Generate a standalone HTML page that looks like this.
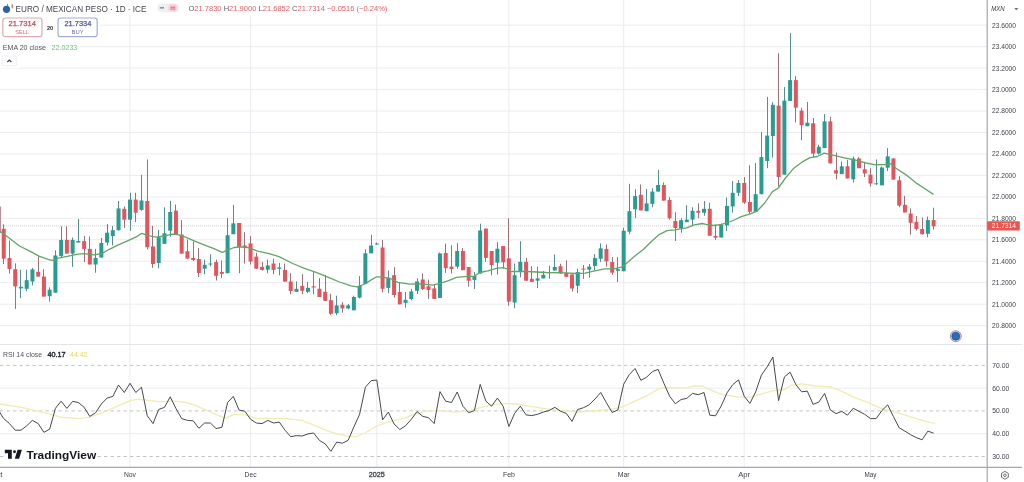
<!DOCTYPE html>
<html><head><meta charset="utf-8"><title>EUR/MXN chart</title><style>
html,body{margin:0;padding:0;background:#fff;}
body{width:1024px;height:482px;overflow:hidden;}
svg{display:block;filter:blur(0.3px);}
</style></head><body>
<svg width="1024" height="482" viewBox="0 0 1024 482" font-family="'Liberation Sans', Arial, sans-serif">
<defs><clipPath id="cp"><rect x="0" y="0" width="987.2" height="344.5"/></clipPath><clipPath id="cr"><rect x="0" y="344.5" width="987.2" height="122.89999999999998"/></clipPath></defs>
<rect width="1024" height="482" fill="#ffffff"/>
<line x1="0" x2="987.2" y1="25.2" y2="25.2" stroke="#ebecef" stroke-width="1"/>
<line x1="0" x2="987.2" y1="46.7" y2="46.7" stroke="#ebecef" stroke-width="1"/>
<line x1="0" x2="987.2" y1="68.1" y2="68.1" stroke="#ebecef" stroke-width="1"/>
<line x1="0" x2="987.2" y1="89.6" y2="89.6" stroke="#ebecef" stroke-width="1"/>
<line x1="0" x2="987.2" y1="111.0" y2="111.0" stroke="#ebecef" stroke-width="1"/>
<line x1="0" x2="987.2" y1="132.5" y2="132.5" stroke="#ebecef" stroke-width="1"/>
<line x1="0" x2="987.2" y1="154.0" y2="154.0" stroke="#ebecef" stroke-width="1"/>
<line x1="0" x2="987.2" y1="175.4" y2="175.4" stroke="#ebecef" stroke-width="1"/>
<line x1="0" x2="987.2" y1="196.9" y2="196.9" stroke="#ebecef" stroke-width="1"/>
<line x1="0" x2="987.2" y1="218.3" y2="218.3" stroke="#ebecef" stroke-width="1"/>
<line x1="0" x2="987.2" y1="239.8" y2="239.8" stroke="#ebecef" stroke-width="1"/>
<line x1="0" x2="987.2" y1="261.3" y2="261.3" stroke="#ebecef" stroke-width="1"/>
<line x1="0" x2="987.2" y1="282.7" y2="282.7" stroke="#ebecef" stroke-width="1"/>
<line x1="0" x2="987.2" y1="304.2" y2="304.2" stroke="#ebecef" stroke-width="1"/>
<line x1="0" x2="987.2" y1="325.6" y2="325.6" stroke="#ebecef" stroke-width="1"/>
<line x1="0" x2="987.2" y1="388.2" y2="388.2" stroke="#ebecef" stroke-width="1"/>
<line x1="0" x2="987.2" y1="433.7" y2="433.7" stroke="#ebecef" stroke-width="1"/>
<line x1="130.0" x2="130.0" y1="0" y2="467.4" stroke="#ebecef" stroke-width="1"/>
<line x1="250.6" x2="250.6" y1="0" y2="467.4" stroke="#ebecef" stroke-width="1"/>
<line x1="376.8" x2="376.8" y1="0" y2="467.4" stroke="#ebecef" stroke-width="1"/>
<line x1="508.9" x2="508.9" y1="0" y2="467.4" stroke="#ebecef" stroke-width="1"/>
<line x1="623.7" x2="623.7" y1="0" y2="467.4" stroke="#ebecef" stroke-width="1"/>
<line x1="744.2" x2="744.2" y1="0" y2="467.4" stroke="#ebecef" stroke-width="1"/>
<line x1="870.5" x2="870.5" y1="0" y2="467.4" stroke="#ebecef" stroke-width="1"/>
<line x1="0" x2="987.2" y1="365.4" y2="365.4" stroke="#bfc2c6" stroke-width="1" stroke-dasharray="3.3 3.2"/>
<line x1="0" x2="987.2" y1="410.9" y2="410.9" stroke="#bfc2c6" stroke-width="1" stroke-dasharray="3.3 3.2"/>
<line x1="0" x2="987.2" y1="456.5" y2="456.5" stroke="#bfc2c6" stroke-width="1" stroke-dasharray="3.3 3.2"/>
<line x1="0" x2="1022" y1="344.5" y2="344.5" stroke="#e4e5ea" stroke-width="1"/>
<line x1="0" x2="987.2" y1="225.9" y2="225.9" stroke="#d6cfd3" stroke-width="1" stroke-dasharray="1.2 0.8"/>
<g clip-path="url(#cp)">
<rect x="0" y="206.5" width="1.1" height="26.5" fill="#b9949e"/>
<rect x="3.00" y="224.3" width="1" height="39.7" fill="#9c7075"/>
<rect x="1.74" y="228.8" width="4" height="29.9" fill="#e3555d"/>
<rect x="9.00" y="240.5" width="1" height="33.2" fill="#9c7075"/>
<rect x="7.48" y="258.0" width="4" height="11.0" fill="#e3555d"/>
<rect x="15.00" y="263.4" width="1" height="45.5" fill="#9c7075"/>
<rect x="13.22" y="269.2" width="4" height="17.2" fill="#e3555d"/>
<rect x="20.00" y="269.8" width="1" height="28.3" fill="#548f8b"/>
<rect x="18.96" y="286.8" width="4" height="1.6" fill="#289c91"/>
<rect x="26.00" y="269.8" width="1" height="21.5" fill="#548f8b"/>
<rect x="24.70" y="280.2" width="4" height="8.6" fill="#289c91"/>
<rect x="32.00" y="268.0" width="1" height="17.4" fill="#548f8b"/>
<rect x="30.44" y="269.4" width="4" height="12.1" fill="#289c91"/>
<rect x="38.00" y="256.1" width="1" height="20.5" fill="#9c7075"/>
<rect x="36.18" y="271.8" width="4" height="4.8" fill="#e3555d"/>
<rect x="43.00" y="269.2" width="1" height="27.4" fill="#9c7075"/>
<rect x="41.92" y="276.6" width="4" height="20.0" fill="#e3555d"/>
<rect x="49.00" y="287.4" width="1" height="14.2" fill="#548f8b"/>
<rect x="47.66" y="289.7" width="4" height="6.5" fill="#289c91"/>
<rect x="55.00" y="250.3" width="1" height="42.4" fill="#548f8b"/>
<rect x="53.40" y="255.5" width="4" height="37.2" fill="#289c91"/>
<rect x="61.00" y="226.3" width="1" height="31.8" fill="#548f8b"/>
<rect x="59.14" y="239.9" width="4" height="16.2" fill="#289c91"/>
<rect x="66.00" y="226.3" width="1" height="27.3" fill="#9c7075"/>
<rect x="64.88" y="239.9" width="4" height="13.7" fill="#e3555d"/>
<rect x="72.00" y="237.6" width="1" height="29.3" fill="#548f8b"/>
<rect x="70.62" y="239.9" width="4" height="13.7" fill="#289c91"/>
<rect x="78.00" y="219.0" width="1" height="23.5" fill="#548f8b"/>
<rect x="76.36" y="241.0" width="4" height="1.5" fill="#289c91"/>
<rect x="84.00" y="236.0" width="1" height="26.0" fill="#9c7075"/>
<rect x="82.10" y="241.1" width="4" height="7.8" fill="#e3555d"/>
<rect x="89.00" y="236.6" width="1" height="27.9" fill="#9c7075"/>
<rect x="87.84" y="248.9" width="4" height="15.6" fill="#e3555d"/>
<rect x="95.00" y="248.9" width="1" height="23.8" fill="#548f8b"/>
<rect x="93.58" y="258.0" width="4" height="6.5" fill="#289c91"/>
<rect x="101.00" y="238.0" width="1" height="19.5" fill="#548f8b"/>
<rect x="99.32" y="243.0" width="4" height="14.5" fill="#289c91"/>
<rect x="107.00" y="224.0" width="1" height="21.4" fill="#548f8b"/>
<rect x="105.06" y="232.7" width="4" height="9.8" fill="#289c91"/>
<rect x="112.00" y="226.0" width="1" height="19.4" fill="#548f8b"/>
<rect x="110.80" y="230.2" width="4" height="5.8" fill="#289c91"/>
<rect x="118.00" y="201.0" width="1" height="29.7" fill="#548f8b"/>
<rect x="116.54" y="208.4" width="4" height="21.8" fill="#289c91"/>
<rect x="124.00" y="206.4" width="1" height="21.5" fill="#9c7075"/>
<rect x="122.28" y="208.8" width="4" height="10.9" fill="#e3555d"/>
<rect x="130.00" y="192.7" width="1" height="38.1" fill="#548f8b"/>
<rect x="128.02" y="199.6" width="4" height="20.1" fill="#289c91"/>
<rect x="135.00" y="192.7" width="1" height="29.3" fill="#9c7075"/>
<rect x="133.76" y="199.6" width="4" height="13.1" fill="#e3555d"/>
<rect x="141.00" y="174.8" width="1" height="35.9" fill="#548f8b"/>
<rect x="139.50" y="200.5" width="4" height="9.4" fill="#289c91"/>
<rect x="147.00" y="159.5" width="1" height="89.8" fill="#9c7075"/>
<rect x="145.24" y="201.0" width="4" height="46.3" fill="#e3555d"/>
<rect x="152.00" y="225.9" width="1" height="42.0" fill="#9c7075"/>
<rect x="150.98" y="246.4" width="4" height="17.6" fill="#e3555d"/>
<rect x="158.00" y="229.8" width="1" height="38.6" fill="#548f8b"/>
<rect x="156.72" y="237.2" width="4" height="25.8" fill="#289c91"/>
<rect x="164.00" y="207.4" width="1" height="36.4" fill="#548f8b"/>
<rect x="162.46" y="233.3" width="4" height="10.5" fill="#289c91"/>
<rect x="170.00" y="201.0" width="1" height="35.6" fill="#548f8b"/>
<rect x="168.20" y="211.9" width="4" height="18.8" fill="#289c91"/>
<rect x="175.00" y="204.5" width="1" height="29.5" fill="#9c7075"/>
<rect x="173.94" y="210.7" width="4" height="23.3" fill="#e3555d"/>
<rect x="181.00" y="220.0" width="1" height="33.6" fill="#9c7075"/>
<rect x="179.68" y="234.6" width="4" height="19.0" fill="#e3555d"/>
<rect x="187.00" y="239.5" width="1" height="19.2" fill="#9c7075"/>
<rect x="185.42" y="251.2" width="4" height="7.4" fill="#e3555d"/>
<rect x="193.00" y="241.5" width="1" height="19.5" fill="#9c7075"/>
<rect x="191.16" y="258.0" width="4" height="2.0" fill="#e3555d"/>
<rect x="198.00" y="248.0" width="1" height="29.0" fill="#9c7075"/>
<rect x="196.90" y="259.0" width="4" height="14.0" fill="#e3555d"/>
<rect x="204.00" y="259.6" width="1" height="14.6" fill="#548f8b"/>
<rect x="202.64" y="264.8" width="4" height="3.9" fill="#289c91"/>
<rect x="210.00" y="254.3" width="1" height="12.1" fill="#548f8b"/>
<rect x="208.38" y="263.5" width="4" height="1.0" fill="#289c91"/>
<rect x="216.00" y="259.6" width="1" height="20.9" fill="#9c7075"/>
<rect x="214.12" y="262.1" width="4" height="13.7" fill="#e3555d"/>
<rect x="221.00" y="260.5" width="1" height="17.6" fill="#9c7075"/>
<rect x="219.86" y="271.9" width="4" height="1.9" fill="#e3555d"/>
<rect x="227.00" y="218.0" width="1" height="55.2" fill="#548f8b"/>
<rect x="225.60" y="235.2" width="4" height="38.0" fill="#289c91"/>
<rect x="233.00" y="204.9" width="1" height="29.3" fill="#548f8b"/>
<rect x="231.34" y="223.4" width="4" height="10.8" fill="#289c91"/>
<rect x="239.00" y="223.0" width="1" height="50.2" fill="#9c7075"/>
<rect x="237.08" y="223.0" width="4" height="23.9" fill="#e3555d"/>
<rect x="244.00" y="232.2" width="1" height="31.3" fill="#9c7075"/>
<rect x="242.82" y="245.5" width="4" height="2.4" fill="#e3555d"/>
<rect x="250.00" y="236.1" width="1" height="28.4" fill="#9c7075"/>
<rect x="248.56" y="243.4" width="4" height="18.1" fill="#e3555d"/>
<rect x="256.00" y="252.7" width="1" height="16.1" fill="#9c7075"/>
<rect x="254.30" y="256.6" width="4" height="12.1" fill="#e3555d"/>
<rect x="262.00" y="262.1" width="1" height="8.6" fill="#9c7075"/>
<rect x="260.04" y="266.8" width="4" height="3.1" fill="#e3555d"/>
<rect x="267.00" y="259.6" width="1" height="13.6" fill="#548f8b"/>
<rect x="265.78" y="265.4" width="4" height="4.3" fill="#289c91"/>
<rect x="273.00" y="258.6" width="1" height="15.6" fill="#9c7075"/>
<rect x="271.52" y="263.5" width="4" height="6.4" fill="#e3555d"/>
<rect x="279.00" y="262.9" width="1" height="12.3" fill="#548f8b"/>
<rect x="277.26" y="267.4" width="4" height="1.4" fill="#289c91"/>
<rect x="284.00" y="263.5" width="1" height="18.1" fill="#9c7075"/>
<rect x="283.00" y="269.9" width="4" height="11.7" fill="#e3555d"/>
<rect x="290.00" y="273.2" width="1" height="21.1" fill="#9c7075"/>
<rect x="288.74" y="281.5" width="4" height="9.5" fill="#e3555d"/>
<rect x="296.00" y="281.4" width="1" height="10.4" fill="#548f8b"/>
<rect x="294.48" y="288.8" width="4" height="3.0" fill="#289c91"/>
<rect x="302.00" y="274.2" width="1" height="20.1" fill="#9c7075"/>
<rect x="300.22" y="285.9" width="4" height="4.9" fill="#e3555d"/>
<rect x="307.00" y="282.0" width="1" height="11.1" fill="#548f8b"/>
<rect x="305.96" y="287.9" width="4" height="3.9" fill="#289c91"/>
<rect x="313.00" y="271.6" width="1" height="22.7" fill="#9c7075"/>
<rect x="311.70" y="286.3" width="4" height="1.2" fill="#e3555d"/>
<rect x="319.00" y="278.1" width="1" height="18.9" fill="#9c7075"/>
<rect x="317.44" y="288.8" width="4" height="8.2" fill="#e3555d"/>
<rect x="325.00" y="274.8" width="1" height="26.1" fill="#9c7075"/>
<rect x="323.18" y="291.8" width="4" height="9.1" fill="#e3555d"/>
<rect x="330.00" y="293.7" width="1" height="21.5" fill="#9c7075"/>
<rect x="328.92" y="300.2" width="4" height="13.6" fill="#e3555d"/>
<rect x="336.00" y="295.7" width="1" height="19.5" fill="#548f8b"/>
<rect x="334.66" y="305.4" width="4" height="7.8" fill="#289c91"/>
<rect x="342.00" y="302.1" width="1" height="10.6" fill="#9c7075"/>
<rect x="340.40" y="304.8" width="4" height="3.6" fill="#e3555d"/>
<rect x="348.00" y="304.0" width="1" height="5.3" fill="#548f8b"/>
<rect x="346.14" y="305.4" width="4" height="3.0" fill="#289c91"/>
<rect x="353.00" y="295.7" width="1" height="14.6" fill="#548f8b"/>
<rect x="351.88" y="297.0" width="4" height="13.3" fill="#289c91"/>
<rect x="359.00" y="276.1" width="1" height="22.5" fill="#548f8b"/>
<rect x="357.62" y="285.9" width="4" height="11.7" fill="#289c91"/>
<rect x="365.00" y="249.4" width="1" height="34.5" fill="#548f8b"/>
<rect x="363.36" y="253.3" width="4" height="30.6" fill="#289c91"/>
<rect x="371.00" y="234.8" width="1" height="18.5" fill="#548f8b"/>
<rect x="369.10" y="245.5" width="4" height="7.8" fill="#289c91"/>
<rect x="376.00" y="242.5" width="1" height="2.3" fill="#548f8b"/>
<rect x="374.84" y="243.5" width="4" height="1.0" fill="#289c91"/>
<rect x="382.00" y="240.0" width="1" height="52.3" fill="#9c7075"/>
<rect x="380.58" y="247.5" width="4" height="41.3" fill="#e3555d"/>
<rect x="388.00" y="270.5" width="1" height="22.6" fill="#548f8b"/>
<rect x="386.32" y="278.1" width="4" height="9.8" fill="#289c91"/>
<rect x="394.00" y="267.2" width="1" height="30.3" fill="#9c7075"/>
<rect x="392.06" y="275.2" width="4" height="19.8" fill="#e3555d"/>
<rect x="399.00" y="282.8" width="1" height="21.5" fill="#9c7075"/>
<rect x="397.80" y="292.0" width="4" height="12.3" fill="#e3555d"/>
<rect x="405.00" y="292.0" width="1" height="15.6" fill="#548f8b"/>
<rect x="403.54" y="299.8" width="4" height="3.1" fill="#289c91"/>
<rect x="411.00" y="289.1" width="1" height="11.1" fill="#548f8b"/>
<rect x="409.28" y="291.5" width="4" height="7.6" fill="#289c91"/>
<rect x="417.00" y="278.4" width="1" height="15.6" fill="#548f8b"/>
<rect x="415.02" y="281.5" width="4" height="9.3" fill="#289c91"/>
<rect x="422.00" y="273.6" width="1" height="16.4" fill="#9c7075"/>
<rect x="420.76" y="279.5" width="4" height="9.6" fill="#e3555d"/>
<rect x="428.00" y="279.5" width="1" height="19.4" fill="#9c7075"/>
<rect x="426.50" y="286.2" width="4" height="3.8" fill="#e3555d"/>
<rect x="434.00" y="284.2" width="1" height="14.7" fill="#9c7075"/>
<rect x="432.24" y="288.4" width="4" height="10.5" fill="#e3555d"/>
<rect x="439.00" y="252.6" width="1" height="45.3" fill="#548f8b"/>
<rect x="437.98" y="253.4" width="4" height="44.5" fill="#289c91"/>
<rect x="445.00" y="243.6" width="1" height="29.3" fill="#9c7075"/>
<rect x="443.72" y="253.0" width="4" height="15.2" fill="#e3555d"/>
<rect x="451.00" y="245.2" width="1" height="28.3" fill="#9c7075"/>
<rect x="449.46" y="266.6" width="4" height="2.4" fill="#e3555d"/>
<rect x="457.00" y="243.2" width="1" height="25.4" fill="#548f8b"/>
<rect x="455.20" y="251.0" width="4" height="15.6" fill="#289c91"/>
<rect x="462.00" y="248.1" width="1" height="22.1" fill="#9c7075"/>
<rect x="460.94" y="251.0" width="4" height="19.2" fill="#e3555d"/>
<rect x="468.00" y="267.0" width="1" height="19.6" fill="#9c7075"/>
<rect x="466.68" y="267.0" width="4" height="13.7" fill="#e3555d"/>
<rect x="474.00" y="272.1" width="1" height="17.0" fill="#548f8b"/>
<rect x="472.42" y="276.0" width="4" height="3.9" fill="#289c91"/>
<rect x="480.00" y="223.7" width="1" height="49.8" fill="#548f8b"/>
<rect x="478.16" y="230.5" width="4" height="43.0" fill="#289c91"/>
<rect x="485.00" y="228.6" width="1" height="33.2" fill="#9c7075"/>
<rect x="483.90" y="228.6" width="4" height="29.3" fill="#e3555d"/>
<rect x="491.00" y="251.0" width="1" height="24.4" fill="#9c7075"/>
<rect x="489.64" y="251.0" width="4" height="14.1" fill="#e3555d"/>
<rect x="497.00" y="242.2" width="1" height="32.3" fill="#548f8b"/>
<rect x="495.38" y="248.7" width="4" height="14.0" fill="#289c91"/>
<rect x="503.00" y="246.1" width="1" height="22.5" fill="#9c7075"/>
<rect x="501.12" y="246.1" width="4" height="16.2" fill="#e3555d"/>
<rect x="508.00" y="218.2" width="1" height="87.5" fill="#9c7075"/>
<rect x="506.86" y="258.3" width="4" height="43.3" fill="#e3555d"/>
<rect x="514.00" y="263.5" width="1" height="44.7" fill="#548f8b"/>
<rect x="512.60" y="275.2" width="4" height="27.3" fill="#289c91"/>
<rect x="520.00" y="241.2" width="1" height="36.1" fill="#548f8b"/>
<rect x="518.34" y="261.8" width="4" height="10.3" fill="#289c91"/>
<rect x="526.00" y="257.9" width="1" height="22.8" fill="#9c7075"/>
<rect x="524.08" y="261.8" width="4" height="18.9" fill="#e3555d"/>
<rect x="531.00" y="266.2" width="1" height="15.6" fill="#9c7075"/>
<rect x="529.82" y="278.8" width="4" height="3.1" fill="#e3555d"/>
<rect x="537.00" y="266.6" width="1" height="21.5" fill="#548f8b"/>
<rect x="535.56" y="278.4" width="4" height="2.3" fill="#289c91"/>
<rect x="543.00" y="270.9" width="1" height="7.5" fill="#548f8b"/>
<rect x="541.30" y="274.8" width="4" height="3.6" fill="#289c91"/>
<rect x="549.00" y="265.7" width="1" height="13.1" fill="#548f8b"/>
<rect x="547.04" y="272.1" width="4" height="1.0" fill="#289c91"/>
<rect x="554.00" y="254.5" width="1" height="16.0" fill="#548f8b"/>
<rect x="552.78" y="267.0" width="4" height="3.5" fill="#289c91"/>
<rect x="560.00" y="263.7" width="1" height="10.3" fill="#9c7075"/>
<rect x="558.52" y="266.2" width="4" height="7.2" fill="#e3555d"/>
<rect x="566.00" y="260.4" width="1" height="16.4" fill="#9c7075"/>
<rect x="564.26" y="272.9" width="4" height="3.9" fill="#e3555d"/>
<rect x="572.00" y="274.5" width="1" height="17.1" fill="#9c7075"/>
<rect x="570.00" y="274.5" width="4" height="14.0" fill="#e3555d"/>
<rect x="577.00" y="268.6" width="1" height="24.4" fill="#548f8b"/>
<rect x="575.74" y="272.1" width="4" height="13.7" fill="#289c91"/>
<rect x="583.00" y="265.0" width="1" height="13.8" fill="#9c7075"/>
<rect x="581.48" y="268.6" width="4" height="1.0" fill="#e3555d"/>
<rect x="589.00" y="264.0" width="1" height="13.6" fill="#548f8b"/>
<rect x="587.22" y="266.6" width="4" height="3.1" fill="#289c91"/>
<rect x="594.00" y="254.2" width="1" height="16.2" fill="#548f8b"/>
<rect x="592.96" y="258.1" width="4" height="7.8" fill="#289c91"/>
<rect x="600.00" y="243.4" width="1" height="18.6" fill="#548f8b"/>
<rect x="598.70" y="248.3" width="4" height="10.4" fill="#289c91"/>
<rect x="606.00" y="244.4" width="1" height="22.1" fill="#9c7075"/>
<rect x="604.44" y="248.9" width="4" height="12.5" fill="#e3555d"/>
<rect x="612.00" y="257.1" width="1" height="17.6" fill="#9c7075"/>
<rect x="610.18" y="262.0" width="4" height="10.7" fill="#e3555d"/>
<rect x="617.00" y="257.1" width="1" height="25.0" fill="#548f8b"/>
<rect x="615.92" y="269.2" width="4" height="1.6" fill="#289c91"/>
<rect x="623.00" y="227.8" width="1" height="43.4" fill="#548f8b"/>
<rect x="621.66" y="230.7" width="4" height="40.5" fill="#289c91"/>
<rect x="629.00" y="183.8" width="1" height="50.4" fill="#548f8b"/>
<rect x="627.40" y="211.2" width="4" height="20.5" fill="#289c91"/>
<rect x="635.00" y="189.3" width="1" height="28.9" fill="#548f8b"/>
<rect x="633.14" y="196.1" width="4" height="13.1" fill="#289c91"/>
<rect x="640.00" y="184.4" width="1" height="26.0" fill="#9c7075"/>
<rect x="638.88" y="194.8" width="4" height="15.6" fill="#e3555d"/>
<rect x="646.00" y="188.9" width="1" height="22.3" fill="#548f8b"/>
<rect x="644.62" y="203.4" width="4" height="7.8" fill="#289c91"/>
<rect x="652.00" y="188.3" width="1" height="19.0" fill="#548f8b"/>
<rect x="650.36" y="191.6" width="4" height="12.3" fill="#289c91"/>
<rect x="658.00" y="169.8" width="1" height="21.8" fill="#548f8b"/>
<rect x="656.10" y="185.0" width="4" height="6.6" fill="#289c91"/>
<rect x="663.00" y="182.5" width="1" height="18.1" fill="#9c7075"/>
<rect x="661.84" y="185.0" width="4" height="15.6" fill="#e3555d"/>
<rect x="669.00" y="197.1" width="1" height="22.5" fill="#9c7075"/>
<rect x="667.58" y="200.0" width="4" height="18.2" fill="#e3555d"/>
<rect x="675.00" y="212.3" width="1" height="28.7" fill="#9c7075"/>
<rect x="673.32" y="220.9" width="4" height="7.1" fill="#e3555d"/>
<rect x="681.00" y="218.2" width="1" height="14.5" fill="#548f8b"/>
<rect x="679.06" y="220.2" width="4" height="8.2" fill="#289c91"/>
<rect x="686.00" y="205.3" width="1" height="16.8" fill="#548f8b"/>
<rect x="684.80" y="219.6" width="4" height="2.5" fill="#289c91"/>
<rect x="692.00" y="207.3" width="1" height="18.1" fill="#548f8b"/>
<rect x="690.54" y="210.8" width="4" height="8.8" fill="#289c91"/>
<rect x="698.00" y="203.4" width="1" height="14.8" fill="#9c7075"/>
<rect x="696.28" y="210.8" width="4" height="1.9" fill="#e3555d"/>
<rect x="704.00" y="201.0" width="1" height="14.7" fill="#548f8b"/>
<rect x="702.02" y="208.8" width="4" height="3.9" fill="#289c91"/>
<rect x="709.00" y="202.6" width="1" height="33.1" fill="#9c7075"/>
<rect x="707.76" y="208.8" width="4" height="26.9" fill="#e3555d"/>
<rect x="715.00" y="224.5" width="1" height="15.5" fill="#9c7075"/>
<rect x="713.50" y="235.9" width="4" height="1.8" fill="#e3555d"/>
<rect x="721.00" y="223.5" width="1" height="14.0" fill="#548f8b"/>
<rect x="719.24" y="224.8" width="4" height="12.7" fill="#289c91"/>
<rect x="726.00" y="197.5" width="1" height="33.5" fill="#548f8b"/>
<rect x="724.98" y="205.9" width="4" height="19.5" fill="#289c91"/>
<rect x="732.00" y="181.1" width="1" height="31.6" fill="#548f8b"/>
<rect x="730.72" y="192.8" width="4" height="13.7" fill="#289c91"/>
<rect x="738.00" y="180.0" width="1" height="16.1" fill="#548f8b"/>
<rect x="736.46" y="183.0" width="4" height="9.8" fill="#289c91"/>
<rect x="744.00" y="177.1" width="1" height="26.8" fill="#9c7075"/>
<rect x="742.20" y="183.0" width="4" height="19.6" fill="#e3555d"/>
<rect x="749.00" y="165.4" width="1" height="48.3" fill="#9c7075"/>
<rect x="747.94" y="202.0" width="4" height="9.8" fill="#e3555d"/>
<rect x="755.00" y="163.0" width="1" height="48.8" fill="#548f8b"/>
<rect x="753.68" y="194.2" width="4" height="17.6" fill="#289c91"/>
<rect x="761.00" y="132.1" width="1" height="62.1" fill="#548f8b"/>
<rect x="759.42" y="157.1" width="4" height="37.1" fill="#289c91"/>
<rect x="767.00" y="96.9" width="1" height="71.3" fill="#548f8b"/>
<rect x="765.16" y="135.6" width="4" height="25.4" fill="#289c91"/>
<rect x="772.00" y="102.2" width="1" height="55.3" fill="#548f8b"/>
<rect x="770.90" y="104.8" width="4" height="31.2" fill="#289c91"/>
<rect x="778.00" y="53.3" width="1" height="133.1" fill="#9c7075"/>
<rect x="776.64" y="105.6" width="4" height="71.4" fill="#e3555d"/>
<rect x="784.00" y="87.1" width="1" height="87.6" fill="#548f8b"/>
<rect x="782.38" y="100.6" width="4" height="74.1" fill="#289c91"/>
<rect x="790.00" y="33.2" width="1" height="67.8" fill="#548f8b"/>
<rect x="788.12" y="80.1" width="4" height="20.9" fill="#289c91"/>
<rect x="795.00" y="76.2" width="1" height="46.1" fill="#9c7075"/>
<rect x="793.86" y="80.1" width="4" height="27.5" fill="#e3555d"/>
<rect x="801.00" y="107.8" width="1" height="32.5" fill="#9c7075"/>
<rect x="799.60" y="110.6" width="4" height="14.7" fill="#e3555d"/>
<rect x="807.00" y="101.9" width="1" height="24.3" fill="#548f8b"/>
<rect x="805.34" y="122.7" width="4" height="3.5" fill="#289c91"/>
<rect x="813.00" y="118.0" width="1" height="39.1" fill="#9c7075"/>
<rect x="811.08" y="123.3" width="4" height="30.3" fill="#e3555d"/>
<rect x="818.00" y="144.8" width="1" height="9.7" fill="#548f8b"/>
<rect x="816.82" y="146.8" width="4" height="6.8" fill="#289c91"/>
<rect x="824.00" y="114.1" width="1" height="34.0" fill="#548f8b"/>
<rect x="822.56" y="121.4" width="4" height="26.7" fill="#289c91"/>
<rect x="830.00" y="116.9" width="1" height="46.5" fill="#9c7075"/>
<rect x="828.30" y="121.4" width="4" height="42.0" fill="#e3555d"/>
<rect x="836.00" y="152.6" width="1" height="26.8" fill="#9c7075"/>
<rect x="834.04" y="170.2" width="4" height="3.3" fill="#e3555d"/>
<rect x="841.00" y="161.4" width="1" height="12.7" fill="#548f8b"/>
<rect x="839.78" y="166.3" width="4" height="7.8" fill="#289c91"/>
<rect x="847.00" y="159.8" width="1" height="18.6" fill="#9c7075"/>
<rect x="845.52" y="166.3" width="4" height="12.1" fill="#e3555d"/>
<rect x="853.00" y="156.5" width="1" height="26.1" fill="#548f8b"/>
<rect x="851.26" y="158.5" width="4" height="20.8" fill="#289c91"/>
<rect x="858.00" y="157.1" width="1" height="11.1" fill="#9c7075"/>
<rect x="857.00" y="158.5" width="4" height="9.7" fill="#e3555d"/>
<rect x="864.00" y="162.2" width="1" height="14.8" fill="#9c7075"/>
<rect x="862.74" y="169.3" width="4" height="4.1" fill="#e3555d"/>
<rect x="870.00" y="168.3" width="1" height="18.3" fill="#9c7075"/>
<rect x="868.48" y="174.6" width="4" height="9.0" fill="#e3555d"/>
<rect x="876.00" y="159.5" width="1" height="25.3" fill="#548f8b"/>
<rect x="874.22" y="183.3" width="4" height="1.0" fill="#289c91"/>
<rect x="881.00" y="166.5" width="1" height="18.8" fill="#548f8b"/>
<rect x="879.96" y="167.5" width="4" height="17.8" fill="#289c91"/>
<rect x="887.00" y="148.1" width="1" height="22.9" fill="#548f8b"/>
<rect x="885.70" y="156.4" width="4" height="11.3" fill="#289c91"/>
<rect x="893.00" y="158.0" width="1" height="21.6" fill="#9c7075"/>
<rect x="891.44" y="158.5" width="4" height="21.1" fill="#e3555d"/>
<rect x="899.00" y="176.1" width="1" height="31.1" fill="#9c7075"/>
<rect x="897.18" y="180.3" width="4" height="25.3" fill="#e3555d"/>
<rect x="904.00" y="195.8" width="1" height="16.6" fill="#9c7075"/>
<rect x="902.92" y="204.8" width="4" height="7.7" fill="#e3555d"/>
<rect x="910.00" y="208.3" width="1" height="26.3" fill="#9c7075"/>
<rect x="908.66" y="213.5" width="4" height="9.3" fill="#e3555d"/>
<rect x="916.00" y="216.0" width="1" height="14.5" fill="#9c7075"/>
<rect x="914.40" y="221.8" width="4" height="7.2" fill="#e3555d"/>
<rect x="922.00" y="217.6" width="1" height="17.0" fill="#9c7075"/>
<rect x="920.14" y="229.0" width="4" height="5.2" fill="#e3555d"/>
<rect x="927.00" y="216.6" width="1" height="20.7" fill="#548f8b"/>
<rect x="925.88" y="220.1" width="4" height="13.7" fill="#289c91"/>
<rect x="933.00" y="207.7" width="1" height="21.9" fill="#9c7075"/>
<rect x="931.62" y="220.1" width="4" height="6.2" fill="#e3555d"/>
</g>
<polyline points="0.0,231.4 7.8,237.0 19.5,246.0 29.3,250.9 39.0,256.1 48.8,259.7 52.7,260.3 58.6,258.1 68.4,256.1 78.1,254.2 84.0,253.6 93.8,254.8 101.6,253.6 109.4,249.3 117.2,245.4 127.0,241.1 136.7,236.6 141.8,233.3 148.4,235.6 156.2,237.2 166.0,235.6 171.9,234.1 177.7,234.6 185.5,237.2 195.3,241.3 206.7,245.9 214.5,248.8 222.3,252.3 228.2,249.8 234.1,247.5 241.9,246.9 249.7,247.9 257.5,251.2 269.2,253.7 279.0,256.6 292.7,263.5 304.4,268.4 316.1,272.3 327.8,277.1 339.5,282.0 351.2,285.9 357.1,286.9 364.9,284.0 370.8,280.1 376.6,276.8 382.5,277.1 390.3,278.5 397.8,282.3 409.5,284.2 421.2,283.8 433.0,285.2 440.8,283.2 448.6,280.7 456.4,277.4 468.1,276.4 474.0,276.4 479.8,272.5 487.7,270.9 497.4,268.2 503.3,267.6 507.2,269.0 511.1,271.5 526.7,271.5 546.2,272.5 565.8,272.9 575.5,273.5 585.0,273.1 594.8,270.8 604.5,268.8 614.3,268.8 622.1,266.9 628.0,262.0 635.8,255.2 643.6,249.3 651.4,241.5 659.2,234.6 667.0,230.7 674.8,229.8 686.6,227.8 694.4,224.9 702.2,223.5 706.1,224.3 713.9,225.5 721.7,224.3 729.5,222.0 735.4,219.5 741.2,216.6 751.0,213.7 756.9,211.2 764.7,203.0 772.5,191.6 778.3,188.0 785.5,178.0 793.8,168.2 801.6,162.4 809.4,157.9 817.2,156.5 824.2,153.2 832.8,155.2 844.5,157.9 856.2,160.4 866.0,163.0 875.5,164.8 885.0,164.5 890.8,163.7 896.0,168.2 906.4,175.1 916.8,183.4 923.0,187.5 933.4,194.4" fill="none" stroke="#64a468" stroke-width="1.3" stroke-linejoin="round" clip-path="url(#cp)"/>
<polyline points="0.0,404.0 21.8,407.3 43.6,412.7 61.0,417.1 78.4,418.6 89.3,417.1 102.4,412.7 117.6,406.2 130.7,400.3 139.4,399.2 148.1,400.3 161.2,401.8 174.3,400.8 185.2,402.5 195.0,405.1 208.0,411.2 216.8,414.9 225.5,418.2 234.2,414.3 245.1,414.9 256.0,418.2 271.2,418.6 286.5,418.6 301.8,420.4 312.6,424.7 325.7,430.2 336.6,433.9 347.5,436.0 356.2,436.7 365.0,433.0 375.8,426.5 386.7,422.5 395.0,420.4 407.4,417.1 416.1,413.4 427.0,411.2 440.1,410.6 455.4,412.1 468.4,411.2 481.5,407.3 492.4,404.7 505.5,403.4 516.4,404.0 529.4,406.2 542.5,408.4 555.6,409.9 568.6,411.2 579.5,412.1 590.0,411.0 598.1,410.4 611.1,409.3 622.0,407.1 632.9,402.1 646.0,396.2 659.1,388.6 667.8,387.5 685.2,388.1 693.9,386.0 702.6,386.0 711.4,390.3 722.3,394.7 737.5,396.9 750.6,397.3 759.3,394.7 772.4,390.8 785.0,389.5 790.9,385.3 801.8,383.8 814.9,386.0 830.1,386.8 841.0,390.8 854.1,397.3 867.1,402.1 880.2,408.2 895.5,412.1 910.7,416.9 923.8,420.8 934.7,423.4" fill="none" stroke="#f1ebb4" stroke-width="1.3" stroke-linejoin="round" clip-path="url(#cr)"/>
<polyline points="-2.0,409.5 3.7,418.6 9.5,423.6 15.2,430.2 21.0,430.2 26.7,425.8 32.4,420.4 38.2,423.6 43.9,432.3 49.7,429.1 55.4,408.4 61.1,401.2 66.9,408.4 72.6,401.4 78.4,402.5 84.1,407.3 89.8,416.4 95.6,412.7 101.3,404.0 107.1,398.1 112.8,396.4 118.5,385.1 124.3,392.5 130.0,383.3 135.8,392.5 141.5,387.2 147.2,415.6 153.0,423.6 158.7,409.5 164.5,407.3 170.2,396.8 175.9,408.4 181.7,418.6 187.4,420.4 193.2,420.8 198.9,428.3 204.6,423.0 210.4,423.0 216.1,428.6 221.9,427.3 227.6,402.5 233.3,396.4 239.1,410.1 244.8,411.2 250.6,419.3 256.3,423.0 262.0,423.6 267.8,420.4 273.5,423.0 279.3,422.1 285.0,430.2 290.7,436.7 296.5,435.6 302.2,436.0 308.0,433.9 313.7,433.0 319.4,440.4 325.2,443.9 330.9,451.3 336.7,442.1 342.4,443.2 348.1,440.4 353.9,426.9 359.6,414.3 365.4,387.2 371.1,380.7 376.8,380.0 382.6,419.9 388.3,412.1 394.1,424.0 399.8,429.5 405.5,425.8 411.3,419.3 417.0,411.6 422.8,416.4 428.5,417.7 434.2,423.6 440.0,391.6 445.7,401.2 451.5,402.5 457.2,392.0 462.9,406.2 468.7,412.7 474.4,410.6 480.2,384.4 485.9,401.2 491.6,406.2 497.4,398.1 503.1,406.2 508.9,426.5 514.6,413.4 520.3,406.2 526.1,414.9 531.8,415.6 537.6,414.3 543.3,412.1 549.0,410.6 554.8,407.3 560.5,411.2 566.3,413.4 572.0,421.4 577.7,409.5 583.5,407.7 589.2,404.8 595.0,399.0 600.7,392.5 606.4,402.7 612.2,412.5 617.9,409.9 623.7,384.2 629.4,374.4 635.1,368.5 640.9,380.3 646.6,377.2 652.4,371.6 658.1,369.4 663.8,383.1 669.6,396.2 675.3,403.8 681.1,399.5 686.8,398.4 692.5,393.4 698.3,394.7 704.0,392.5 709.8,415.2 715.5,415.8 721.2,406.0 727.0,392.9 732.7,384.7 738.5,379.9 744.2,396.2 749.9,403.4 755.7,391.8 761.4,375.1 767.2,366.8 772.9,357.0 778.6,400.6 784.4,376.9 790.1,372.2 795.9,384.7 801.6,391.8 807.3,391.2 813.1,404.3 818.8,402.1 824.6,393.4 830.3,409.9 836.0,413.6 841.8,411.4 847.5,415.2 853.3,408.2 859.0,411.4 864.7,414.3 870.5,418.6 876.2,418.6 882.0,410.4 887.7,404.9 893.4,416.5 899.2,427.8 904.9,431.1 910.7,434.8 916.4,437.6 922.1,439.8 927.9,431.1 933.6,433.2" fill="none" stroke="#45484f" stroke-width="1.0" stroke-linejoin="round" clip-path="url(#cr)"/>
<rect x="0" y="0" width="390" height="15.5" fill="#ffffff"/>
<rect x="0" y="16.5" width="100" height="22" fill="#ffffff"/>
<rect x="0" y="40.5" width="79" height="12" fill="#ffffff"/>
<rect x="0" y="54" width="21" height="14" fill="#ffffff"/>
<circle cx="6.5" cy="9.3" r="3.6" fill="#2a62a8"/>
<rect x="7.1" y="4.0" width="0.9" height="1.8" fill="#5a7a6a"/>
<ellipse cx="12.3" cy="6.3" rx="0.9" ry="2.4" fill="#c98a8a"/>
<text x="15.6" y="11.7" font-size="9.5" fill="#43464f" textLength="130.8" lengthAdjust="spacingAndGlyphs">EURO / MEXICAN PESO · 1D · ICE</text>
<rect x="157.1" y="3.4" width="21.5" height="8.8" rx="4.4" fill="#eff0f3"/>
<rect x="159.8" y="7.2" width="4.2" height="1.3" fill="#7d808a"/>
<rect x="168.3" y="3.9" width="9.3" height="7.8" rx="2.5" fill="#fbd2de"/>
<rect x="170.4" y="6.7" width="4.9" height="0.9" fill="#d9537a"/><rect x="170.4" y="8.6" width="4.9" height="0.9" fill="#d9537a"/>
<text x="188.4" y="10.9" font-size="7.3" fill="#e0636b" textLength="199" lengthAdjust="spacingAndGlyphs"><tspan fill="#5d606b">O</tspan>21.7830 <tspan fill="#5d606b">H</tspan>21.9000 <tspan fill="#5d606b">L</tspan>21.6852 <tspan fill="#5d606b">C</tspan>21.7314 −0.0516 (−0.24%)</text>
<rect x="2.8" y="18" width="39.2" height="18.7" rx="2.8" fill="#ffffff" stroke="#dfa9b0" stroke-width="1.2"/>
<rect x="58" y="18" width="39.2" height="18.7" rx="2.8" fill="#ffffff" stroke="#a3add0" stroke-width="1.2"/>
<text x="22.25" y="25.9" font-size="7.3" fill="#c24d5b" text-anchor="middle" textLength="27.3" lengthAdjust="spacingAndGlyphs" stroke="#c24d5b" stroke-width="0.25">21.7314</text>
<text x="22.1" y="34.0" font-size="5.9" fill="#d46f7a" text-anchor="middle" textLength="13.6" lengthAdjust="spacingAndGlyphs">SELL</text>
<text x="77.9" y="25.9" font-size="7.3" fill="#4b5c95" text-anchor="middle" textLength="27.0" lengthAdjust="spacingAndGlyphs" stroke="#4b5c95" stroke-width="0.25">21.7334</text>
<text x="77.6" y="34.0" font-size="5.9" fill="#6574a6" text-anchor="middle" textLength="12.0" lengthAdjust="spacingAndGlyphs">BUY</text>
<text x="46.9" y="29.8" font-size="5.6" fill="#26292f" font-weight="bold" textLength="6.2" lengthAdjust="spacingAndGlyphs">20</text>
<text x="2.8" y="49.6" font-size="7.4" fill="#50535d" textLength="43.2" lengthAdjust="spacingAndGlyphs">EMA 20 close</text>
<text x="51.6" y="49.6" font-size="7.4" fill="#74be78" textLength="25.7" lengthAdjust="spacingAndGlyphs">22.0233</text>
<rect x="2.1" y="56" width="14.6" height="9.9" rx="2" fill="#ffffff" stroke="#eceef2" stroke-width="1"/>
<polyline points="7.4,62 9.4,60 11.4,62" fill="none" stroke="#3c3f48" stroke-width="1.1"/>
<text x="2.9" y="357.3" font-size="7.4" fill="#50535d" textLength="39.3" lengthAdjust="spacingAndGlyphs">RSI 14 close</text>
<text x="47.5" y="357.3" font-size="7.4" fill="#1e222d" textLength="18.1" lengthAdjust="spacingAndGlyphs" stroke="#1e222d" stroke-width="0.4">40.17</text>
<text x="70.1" y="357.3" font-size="7.4" fill="#e6d86c" textLength="17.2" lengthAdjust="spacingAndGlyphs">44.42</text>
<line x1="987.2" x2="987.2" y1="0" y2="482" stroke="#a3a6af" stroke-width="1.2"/>
<line x1="0" x2="1022" y1="467.4" y2="467.4" stroke="#a3a6af" stroke-width="1.2"/>
<text x="992" y="27.6" font-size="7.2" fill="#3f424b" textLength="24" lengthAdjust="spacingAndGlyphs">23.6000</text>
<text x="992" y="49.1" font-size="7.2" fill="#3f424b" textLength="24" lengthAdjust="spacingAndGlyphs">23.4000</text>
<text x="992" y="70.5" font-size="7.2" fill="#3f424b" textLength="24" lengthAdjust="spacingAndGlyphs">23.2000</text>
<text x="992" y="92.0" font-size="7.2" fill="#3f424b" textLength="24" lengthAdjust="spacingAndGlyphs">23.0000</text>
<text x="992" y="113.4" font-size="7.2" fill="#3f424b" textLength="24" lengthAdjust="spacingAndGlyphs">22.8000</text>
<text x="992" y="134.9" font-size="7.2" fill="#3f424b" textLength="24" lengthAdjust="spacingAndGlyphs">22.6000</text>
<text x="992" y="156.4" font-size="7.2" fill="#3f424b" textLength="24" lengthAdjust="spacingAndGlyphs">22.4000</text>
<text x="992" y="177.8" font-size="7.2" fill="#3f424b" textLength="24" lengthAdjust="spacingAndGlyphs">22.2000</text>
<text x="992" y="199.3" font-size="7.2" fill="#3f424b" textLength="24" lengthAdjust="spacingAndGlyphs">22.0000</text>
<text x="992" y="220.7" font-size="7.2" fill="#3f424b" textLength="24" lengthAdjust="spacingAndGlyphs">21.8000</text>
<text x="992" y="242.2" font-size="7.2" fill="#3f424b" textLength="24" lengthAdjust="spacingAndGlyphs">21.6000</text>
<text x="992" y="263.7" font-size="7.2" fill="#3f424b" textLength="24" lengthAdjust="spacingAndGlyphs">21.4000</text>
<text x="992" y="285.1" font-size="7.2" fill="#3f424b" textLength="24" lengthAdjust="spacingAndGlyphs">21.2000</text>
<text x="992" y="306.6" font-size="7.2" fill="#3f424b" textLength="24" lengthAdjust="spacingAndGlyphs">21.0000</text>
<text x="992" y="328.0" font-size="7.2" fill="#3f424b" textLength="24" lengthAdjust="spacingAndGlyphs">20.8000</text>
<text x="992.3" y="367.9" font-size="7.3" fill="#3f424b" textLength="17" lengthAdjust="spacingAndGlyphs">70.00</text>
<text x="992.3" y="390.7" font-size="7.3" fill="#3f424b" textLength="17" lengthAdjust="spacingAndGlyphs">60.00</text>
<text x="992.3" y="413.4" font-size="7.3" fill="#3f424b" textLength="17" lengthAdjust="spacingAndGlyphs">50.00</text>
<text x="992.3" y="436.2" font-size="7.3" fill="#3f424b" textLength="17" lengthAdjust="spacingAndGlyphs">40.00</text>
<text x="992.3" y="459.0" font-size="7.3" fill="#3f424b" textLength="17" lengthAdjust="spacingAndGlyphs">30.00</text>
<text x="991.2" y="11.0" font-size="7.2" fill="#3a3d46" font-style="italic" textLength="13.4" lengthAdjust="spacingAndGlyphs">MXN</text>
<path d="M1014.3 8.2 L1018.2 8.2 L1016.25 10.1 Z" fill="#3a3d46"/>
<rect x="987.2" y="221.3" width="32.6" height="9.3" rx="1" fill="#ef5350"/>
<text x="991.8" y="228.4" font-size="6.7" fill="#ffffff" textLength="24.3" lengthAdjust="spacingAndGlyphs">21.7314</text>
<text x="130.0" y="476.8" font-size="6.9" fill="#3f424b" text-anchor="middle" textLength="12" lengthAdjust="spacingAndGlyphs">Nov</text>
<text x="250.6" y="476.8" font-size="6.9" fill="#3f424b" text-anchor="middle" textLength="12" lengthAdjust="spacingAndGlyphs">Dec</text>
<text x="376.8" y="476.8" font-size="6.9" fill="#3f424b" text-anchor="middle" textLength="16" lengthAdjust="spacingAndGlyphs" stroke="#4a4d56" stroke-width="0.35">2025</text>
<text x="508.9" y="476.8" font-size="6.9" fill="#3f424b" text-anchor="middle" textLength="12" lengthAdjust="spacingAndGlyphs">Feb</text>
<text x="623.7" y="476.8" font-size="6.9" fill="#3f424b" text-anchor="middle" textLength="12" lengthAdjust="spacingAndGlyphs">Mar</text>
<text x="744.2" y="476.8" font-size="6.9" fill="#3f424b" text-anchor="middle" textLength="12" lengthAdjust="spacingAndGlyphs">Apr</text>
<text x="870.5" y="476.8" font-size="6.9" fill="#3f424b" text-anchor="middle" textLength="12" lengthAdjust="spacingAndGlyphs">May</text>
<text x="-3.6" y="476.8" font-size="6.9" fill="#3f424b" text-anchor="middle" textLength="12" lengthAdjust="spacingAndGlyphs">Oct</text>
<circle cx="955.8" cy="336.2" r="5.5" fill="#dcd8ee" stroke="#8d8098" stroke-width="0.8"/>
<circle cx="955.8" cy="336.2" r="4.0" fill="#2a6db5" stroke="#22508f" stroke-width="0.7"/>
<polygon points="1004.9,471.4 1008.3,473.35 1008.3,477.25 1004.9,479.2 1001.5,477.25 1001.5,473.35" fill="none" stroke="#4a4d56" stroke-width="0.8"/>
<circle cx="1004.9" cy="475.3" r="1.3" fill="none" stroke="#4a4d56" stroke-width="0.8"/>
<rect x="4" y="448" width="18.6" height="12" fill="#ffffff"/><rect x="26" y="447" width="71" height="15" fill="#ffffff"/>
<path d="M4.8 449.8H11.8V458.8H8V453.3H4.8Z M14.8 458.8L17.6 449.8H21.9L19.1 458.8Z" fill="#131722"/><circle cx="14.5" cy="451.7" r="1.45" fill="#131722"/>
<text x="26.4" y="458.6" font-size="11.6" fill="#131722" font-weight="bold" textLength="69.8" lengthAdjust="spacingAndGlyphs">TradingView</text>
</svg>
</body></html>
